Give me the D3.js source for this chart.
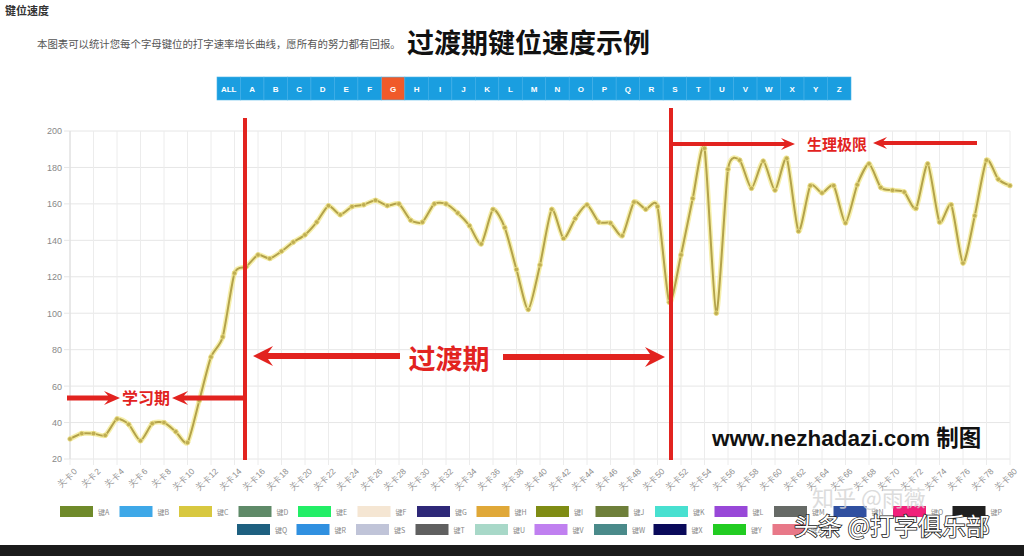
<!DOCTYPE html>
<html><head><meta charset="utf-8">
<script src="https://cdn.jsdelivr.net/npm/d3@7/dist/d3.min.js"></script>
<style>
html,body{margin:0;padding:0;background:#fff;}
svg{display:block;font-family:"Noto Sans CJK SC","Liberation Sans",sans-serif;}
</style></head>
<body><svg id="c" width="1024" height="556"></svg>
<script>
// ---- data ----
const levels = d3.range(0, 81).map(i => "关卡" + i);
const speeds = [31,34,34,33,42,39,30,39.5,40,35,29,52,76,87,122,125.5,132,130,134,139,143,150,159,154,158.5,159.5,162,159,160,151,150,160,160,155,148,138,157,147,124,102,126.5,157,141,152,159.5,150,149.5,142.5,161,157,158.5,106,132,163,190.5,100,179,184,168.5,183.5,167.5,185,145,170,166,170,149.5,170.5,182,169,167.5,166.5,157.5,182,150,159.5,127.5,153.5,184,173.5,170];
const yTicks = [20,40,60,80,100,120,140,160,180,200];
const tabs = ["ALL","A","B","C","D","E","F","G","H","I","J","K","L","M","N","O","P","Q","R","S","T","U","V","W","X","Y","Z"];
const selectedTab = "G";
const legendKeys = ["A","B","C","D","E","F","G","H","I","J","K","L","M","N","O","P","Q","R","S","T","U","V","W","X","Y","Z"];
const legendColors = ["#6f8a2a","#3ea8e8","#d8c840","#5f8a68","#22ee66","#f5e6d3","#2e2878","#e0a838","#7f8c14","#6e7f3a","#48e0d0","#9848d8","#666a66","#3050a0","#f0207a","#202020","#1e6080","#3090e0","#c0c4d8","#606060","#a8d8c8","#c080f0","#4a8a8a","#0a0a5a","#22cc22","#e87888"];

const svg = d3.select("#c");
const red = "#e2231f";

// ---- headings ----
svg.append("text").attr("x",5).attr("y",15).attr("font-size",11).attr("font-weight","bold").attr("fill","#333").text("键位速度");
svg.append("text").attr("x",37).attr("y",48).attr("font-size",10.4).attr("fill","#555").text("本图表可以统计您每个字母键位的打字速率增长曲线，愿所有的努力都有回报。");
svg.append("text").attr("x",407).attr("y",53).attr("font-size",27).attr("font-weight","bold").attr("fill","#111").text("过渡期键位速度示例");

// ---- tabs ----
const tabX = d3.scaleBand().domain(tabs).range([217,851]);
const tg = svg.append("g");
tg.append("rect").attr("x",217).attr("y",77).attr("width",634).attr("height",23).attr("fill","#1a9ee0");
tabs.forEach(t=>{
  const g = tg.append("g");
  g.append("rect").attr("x",tabX(t)).attr("y",77).attr("width",tabX.bandwidth()).attr("height",23)
    .attr("fill", t===selectedTab ? "#f05a2a" : "#1a9ee0").attr("stroke","#4db4e8").attr("stroke-width",0.6);
  g.append("text").attr("x",tabX(t)+tabX.bandwidth()/2).attr("y",92).attr("text-anchor","middle")
    .attr("font-size",8).attr("font-weight","bold").attr("fill","#fff").attr("font-family","Liberation Sans, sans-serif").text(t);
});

// ---- chart ----
const x = d3.scalePoint().domain(levels).range([70,1010]);
const y = d3.scaleLinear().domain([20,200]).range([459,131]);

const grid = svg.append("g");
grid.selectAll("line.h").data(yTicks).join("line")
  .attr("x1",64).attr("x2",1010).attr("y1",d=>y(d)).attr("y2",d=>y(d))
  .attr("stroke","#e6e6e6").attr("stroke-width",1);
const xTickLevels = levels.filter((d,i)=>i%2===0);
grid.selectAll("line.v").data(xTickLevels).join("line")
  .attr("x1",d=>x(d)).attr("x2",d=>x(d)).attr("y1",131).attr("y2",465)
  .attr("stroke","#ececec").attr("stroke-width",1);
svg.append("line").attr("x1",70).attr("x2",70).attr("y1",131).attr("y2",459).attr("stroke","#dcdcdc");

const yAxis = d3.axisLeft(y).tickValues(yTicks).tickSize(0).tickPadding(8);
const ya = svg.append("g").attr("transform","translate(70,0)").call(yAxis);
ya.select(".domain").remove();
ya.selectAll("text").attr("font-size",9).attr("fill","#888").attr("font-family","Liberation Sans, sans-serif");

const xAxis = d3.axisBottom(x).tickValues(xTickLevels).tickSize(0).tickPadding(6);
const xa = svg.append("g").attr("transform","translate(0,462)").call(xAxis);
xa.select(".domain").remove();
xa.selectAll("text").attr("font-size",8.5).attr("fill","#8f8f8f")
  .attr("text-anchor","end").attr("transform","rotate(-45)").attr("dx","-2").attr("dy","6");

// line
const pts = speeds.map((v,i)=>[x(levels[i]), y(v)]);
const lineGen = d3.line().curve(d3.curveCardinal.tension(0.35));
svg.append("path").attr("d",lineGen(pts)).attr("fill","none").attr("stroke","#f3e98f").attr("stroke-width",5).attr("opacity",0.75);
svg.append("path").attr("d",lineGen(pts)).attr("fill","none").attr("stroke","#b3a24a").attr("stroke-width",2);
svg.selectAll("circle.p").data(speeds).join("circle")
  .attr("cx",(d,i)=>x(levels[i])).attr("cy",d=>y(d)).attr("r",2.3)
  .attr("fill","#bfae52").attr("stroke","#ece08a").attr("stroke-width",0.8);

// ---- annotations ----
function arrow(x1, x2, yy, thick, hl, hw){
  const dir = x2 > x1 ? 1 : -1;
  const base = x2 - dir*hl;
  const p = [
    [x1, yy-thick/2],[base+dir*hl*0.25, yy-thick/2],[base, yy-hw/2],[x2, yy],
    [base, yy+hw/2],[base+dir*hl*0.25, yy+thick/2],[x1, yy+thick/2]
  ];
  svg.append("path").attr("d","M"+p.map(q=>q.join(",")).join("L")+"Z").attr("fill",red);
}
svg.append("rect").attr("x",243).attr("y",118).attr("width",4).attr("height",342).attr("fill",red);
svg.append("rect").attr("x",669).attr("y",108).attr("width",4).attr("height",352).attr("fill",red);

arrow(67,120,398,5,16,14);
arrow(244,172,398,5,16,14);
svg.append("text").attr("x",146).attr("y",404).attr("text-anchor","middle").attr("font-size",16).attr("font-weight","bold").attr("fill",red).text("学习期");

arrow(400,253,356,6,20,20);
arrow(503,665,357,6,20,20);
svg.append("text").attr("x",449).attr("y",369).attr("text-anchor","middle").attr("font-size",27).attr("font-weight","bold").attr("fill",red).text("过渡期");

arrow(671,795,144,4,14,12);
arrow(977,873,143,4,14,12);
svg.append("text").attr("x",837).attr("y",150).attr("text-anchor","middle").attr("font-size",15).attr("font-weight","bold").attr("fill",red).text("生理极限");

svg.append("text").attr("x",712).attr("y",446).attr("font-size",22.5).attr("font-weight","bold").attr("fill","#111")
  .attr("font-family","Liberation Sans, Noto Sans CJK SC, sans-serif").text("www.nezhadazi.com 制图");

// ---- legend ----
const lg = svg.append("g");
legendKeys.forEach((k,i)=>{
  const row = i < 16 ? 0 : 1;
  const col = row===0 ? i : i-16;
  const startX = row===0 ? 60 : 237;
  const xx = startX + col*59.5;
  const yy = row===0 ? 506 : 524;
  lg.append("rect").attr("x",xx).attr("y",yy).attr("width",33).attr("height",11).attr("fill",legendColors[i]);
  lg.append("text").attr("x",xx+38).attr("y",yy+9).attr("font-size",7).attr("fill","#888").text("键"+k);
});

// ---- watermarks & bottom bar ----
svg.append("text").attr("x",812).attr("y",506).attr("font-size",22).attr("fill","#d4d4d4").attr("opacity",0.8).text("知乎 @雨薇");
svg.append("rect").attr("x",0).attr("y",545).attr("width",1024).attr("height",11).attr("fill","#1b1b1b");
svg.append("text").attr("x",794).attr("y",535).attr("font-size",24).attr("fill","#fff")
  .attr("stroke","#222").attr("stroke-width",1.6).attr("paint-order","stroke").text("头条 @打字俱乐部");
</script>
</body></html>
